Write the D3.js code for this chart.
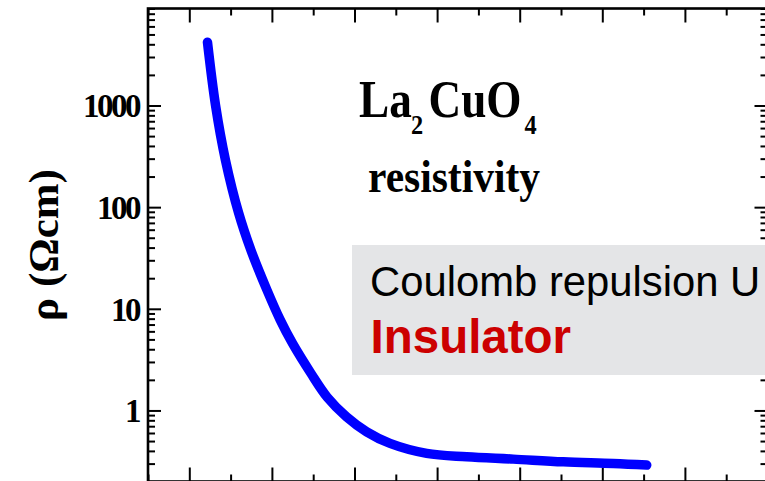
<!DOCTYPE html>
<html>
<head>
<meta charset="utf-8">
<script src="https://cdn.jsdelivr.net/npm/d3@7"></script>
<style>
  html, body { margin: 0; padding: 0; background: #fff; overflow: hidden; }
  svg { display: block; }
</style>
</head>
<body>
<svg id="chart" width="765" height="481"></svg>
<script>
// Resistivity of La2CuO4 versus temperature (K), log scale
const temperature = [61, 65.9, 71.9, 79.9, 87.3, 97, 105.1, 112.5, 123.7, 133.5, 145.2, 157.4, 171.5, 193.7, 217.9, 246.1, 276.4, 306.7, 326.9];
const resistivity = [4200, 1000, 290, 87.3, 37.8, 15.3, 7.73, 4.56, 2.31, 1.35, 0.865, 0.616, 0.474, 0.378, 0.35, 0.332, 0.312, 0.301, 0.29];

const rhoMajorTicks = [1, 10, 100, 1000];
const tempMajorTicks = [50, 100, 150, 200, 250, 300, 350];
const tempMinorTicks = [25, 75, 125, 175, 225, 275, 325, 375];

const titleText = "resistivity";
const axisTitle = "ρ (Ωcm)";
const boxLine1 = "Coulomb repulsion U";
const boxLine2 = "Insulator";

const svg = d3.select("#chart");
const frame = { left: 148, right: 767.5, top: 8.5, bottom: 481.5 };

const x = d3.scaleLinear().domain([25, 400]).range([frame.left, frame.right]);
const y = d3.scaleLog().domain([0.2, 9000]).range([frame.bottom, frame.top]);
const rhoMinorTicks = y.ticks().filter(v => !rhoMajorTicks.includes(v));

const serif = "'Liberation Serif', 'Times New Roman', Times, serif";
const sans = "'Liberation Sans', Arial, Helvetica, sans-serif";

// Tick marks on all four sides, pointing into the plot
function ticks(axis, transform, values, len) {
  const g = svg.append("g")
    .attr("transform", transform)
    .call(axis.tickValues(values).tickSizeInner(-len).tickSizeOuter(0).tickFormat(() => ""));
  g.select(".domain").remove();
  g.selectAll(".tick line").attr("stroke", "#000").attr("stroke-width", 2);
  return g;
}

ticks(d3.axisLeft(y), `translate(${frame.left},0)`, rhoMinorTicks, 7);
ticks(d3.axisRight(y), `translate(${frame.right},0)`, rhoMinorTicks, 7);
ticks(d3.axisRight(y), `translate(${frame.right},0)`, rhoMajorTicks, 13);
ticks(d3.axisTop(x), `translate(0,${frame.top})`, tempMajorTicks, 14);
ticks(d3.axisTop(x), `translate(0,${frame.top})`, tempMinorTicks, 7);
ticks(d3.axisBottom(x), `translate(0,${frame.bottom})`, tempMajorTicks, 14);
ticks(d3.axisBottom(x), `translate(0,${frame.bottom})`, tempMinorTicks, 7);

// Left axis with decade labels
const yAxis = svg.append("g")
  .attr("transform", `translate(${frame.left},0)`)
  .call(d3.axisLeft(y).tickValues(rhoMajorTicks).tickSizeInner(-13).tickSizeOuter(0)
    .tickPadding(9).tickFormat(d3.format("d")));
yAxis.select(".domain").remove();
yAxis.selectAll(".tick line").attr("stroke", "#000").attr("stroke-width", 2);
yAxis.selectAll(".tick text")
  .attr("font-family", serif)
  .attr("font-weight", "bold")
  .attr("font-size", 33)
  .attr("letter-spacing", "-2.5px")
  .attr("fill", "#000")
  .attr("dy", "0.34em");

// Plot frame
svg.append("rect")
  .attr("x", frame.left).attr("y", frame.top)
  .attr("width", frame.right - frame.left).attr("height", frame.bottom - frame.top)
  .attr("fill", "none").attr("stroke", "#000").attr("stroke-width", 2.6);

// Resistivity curve
const line = d3.line()
  .x((d, i) => x(temperature[i]))
  .y(d => y(d))
  .curve(d3.curveCatmullRom.alpha(0.5));

svg.append("path")
  .attr("d", line(resistivity))
  .attr("fill", "none")
  .attr("stroke", "#0000ff")
  .attr("stroke-width", 9.5)
  .attr("stroke-linecap", "round")
  .attr("stroke-linejoin", "round");

// Y axis title
svg.append("text")
  .attr("transform", "translate(57.5,245) rotate(-90)")
  .attr("text-anchor", "middle")
  .attr("font-family", serif)
  .attr("font-weight", "bold")
  .attr("font-size", 43)
  .attr("fill", "#000")
  .text(axisTitle);

// Compound formula La2CuO4, set in a condensed face
const formula = svg.append("text")
  .attr("transform", "translate(359,0) scale(0.87,1)")
  .attr("font-family", serif)
  .attr("font-weight", "bold")
  .attr("fill", "#000");
formula.append("tspan").attr("x", 0).attr("y", 117).attr("font-size", 52).text("La");
formula.append("tspan").attr("x", 59.8).attr("y", 134.5).attr("font-size", 28).text("2");
formula.append("tspan").attr("x", 79.9).attr("y", 117).attr("font-size", 52).text("CuO");
formula.append("tspan").attr("x", 190.2).attr("y", 134.5).attr("font-size", 28).text("4");

svg.append("text")
  .attr("x", 368).attr("y", 192)
  .attr("font-family", serif)
  .attr("font-weight", "bold")
  .attr("font-size", 47)
  .attr("textLength", 172)
  .attr("lengthAdjust", "spacingAndGlyphs")
  .attr("fill", "#000")
  .text(titleText);

// Annotation panel
svg.append("rect")
  .attr("x", 352).attr("y", 245)
  .attr("width", 420).attr("height", 130)
  .attr("fill", "#e4e5e7");

svg.append("text")
  .attr("x", 370).attr("y", 296)
  .attr("font-family", sans)
  .attr("font-size", 41.8)
  .attr("fill", "#000")
  .text(boxLine1);

svg.append("text")
  .attr("x", 370.5).attr("y", 353)
  .attr("font-family", sans)
  .attr("font-weight", "bold")
  .attr("font-size", 47.5)
  .attr("fill", "#cc0000")
  .text(boxLine2);
</script>
</body>
</html>
